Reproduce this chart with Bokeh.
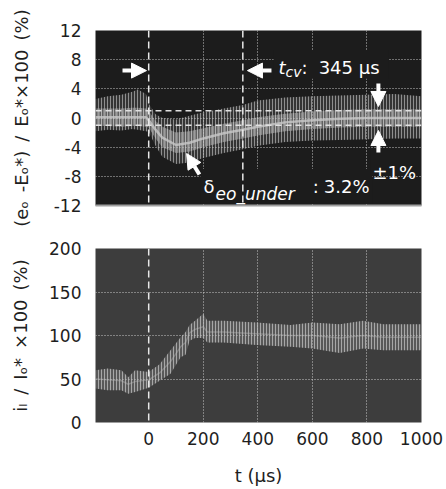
from bokeh.plotting import figure
from bokeh.models import FixedTicker, Label, Arrow, NormalHead, Span, Range1d, BoxAnnotation
from bokeh.layouts import column
from bokeh.embed import file_html
from bokeh.resources import INLINE

FONT = "DejaVu Sans"
INK = "#1e1e1e"

# ---------------- data ----------------
x_ticks = [0, 200, 400, 600, 800, 1000]
x_grid = [200, 400, 600, 800]

# top panel: output-voltage error (%)
top_ticks = [-12, -8, -4, 0, 4, 8, 12]
top_grid = [-8, -4, 0, 4, 8]
t_top = [-195, -150, -100, -60, -40, -10, 0, 25, 50, 100, 150, 200, 275, 345, 400, 500, 600, 700, 800, 900, 1000]
top_outer_hi = [2.6, 3.0, 3.2, 3.6, 3.9, 3.3, 2.0, 0.5, 0.0, -0.2, 0.3, 0.8, 1.3, 1.8, 2.4, 2.8, 3.0, 3.1, 3.2, 3.3, 3.0]
top_outer_lo = [-1.8, -1.6, -1.7, -1.5, -1.6, -1.8, -1.9, -3.8, -5.3, -6.3, -6.1, -5.5, -4.8, -4.3, -3.8, -3.3, -3.1, -3.0, -2.9, -2.8, -2.8]
top_inner_hi = [1.3, 1.3, 1.3, 1.4, 1.4, 1.3, 1.0, -0.4, -1.2, -2.0, -1.8, -1.4, -0.8, -0.3, 0.1, 0.6, 0.9, 1.1, 1.2, 1.2, 1.2]
top_inner_lo = [-1.1, -1.1, -1.2, -1.1, -1.1, -1.2, -1.3, -2.8, -4.0, -4.8, -4.6, -4.0, -3.3, -2.8, -2.4, -1.8, -1.5, -1.3, -1.2, -1.2, -1.2]
top_mean = [0.1, 0.1, 0.1, 0.1, 0.1, 0.1, -0.3, -1.6, -2.7, -3.7, -3.4, -2.8, -2.1, -1.6, -1.2, -0.6, -0.3, -0.1, 0.0, 0.0, 0.0]
t_step = 0
t_cv = 345
band_pct = 1.0

# bottom panel: inductor current (%)
bot_ticks = [0, 50, 100, 150, 200]
bot_grid = [50, 100, 150]
t_bot = [-195, -150, -100, -75, -50, 0, 40, 80, 117, 135, 150, 170, 200, 215, 275, 395, 520, 600, 700, 786, 860, 1000]
bot_hi = [60, 62, 60, 52, 60, 58, 67, 83, 98, 104, 112, 117, 125, 117, 117, 115, 112, 115, 113, 117, 113, 113]
bot_lo = [39, 37, 37, 33, 35, 40, 48, 56, 75, 78, 94, 97, 97, 92, 92, 89, 87, 85, 80, 85, 83, 83]
bot_mid = [50, 49, 48, 44, 47, 49, 57, 70, 87, 92, 103, 107, 110, 104, 104, 102, 100, 100, 97, 100, 98, 98]

top_ylabel = "(eₒ\u2002-Eₒ*)\u2002/\u2002Eₒ*×100\u2002(%)"
bot_ylabel = "iₗ\u2002/\u2002Iₒ*\u2002×100\u2002(%)"
x_label = "t (μs)"

# ---------------- helpers ----------------
W = {' ': .318, '(': .390, ')': .390, '*': .500, '-': .361, '/': .337, ':': .337, '%': .950,
     '.': .318, 'E': .632, 'I': .295, 'L': .557, 'c': .550, 'd': .635, 'e': .615, 'i': .278,
     'n': .634, 'o': .612, 'r': .411, 's': .521, 't': .392, 'u': .634, 'v': .592, '_': .500,
     '×': .838, '±': .838, 'μ': .636, 'δ': .612}


def tw(s, size):
    return sum(W.get(c, .636) for c in s) * size


def rich(fig, pieces, x, y, color="white"):
    """horizontal rich text anchored in data units; pieces: (text, size, italic, sub_shift, gap)"""
    pos = 0.0
    for text, size, italic, shift, gap in pieces:
        pos += gap
        fig.add_layout(Label(x=x, y=y, x_offset=pos, y_offset=-shift, text=text,
                             text_font=FONT, text_font_size=f"{size}px",
                             text_font_style="italic" if italic else "normal",
                             text_color=color, text_align="left", text_baseline="alphabetic"))
        pos += tw(text, size)


def style(p, yticks, ygrid, bg, ylabel, standoff):
    p.background_fill_color = bg
    p.border_fill_color = "white"
    p.outline_line_color = None
    p.yaxis.ticker = FixedTicker(ticks=yticks)
    p.yaxis.major_label_overrides = {v: str(v) for v in yticks}
    p.yaxis.axis_line_color = None
    p.yaxis.major_tick_line_color = None
    p.yaxis.minor_tick_line_color = None
    p.yaxis.major_tick_out = 0
    p.yaxis.major_label_standoff = 14
    p.yaxis.major_label_text_font = FONT
    p.yaxis.major_label_text_font_size = "17px"
    p.yaxis.major_label_text_color = INK
    p.yaxis.axis_label = ylabel
    p.yaxis.axis_label_text_font = FONT
    p.yaxis.axis_label_text_font_size = "18px"
    p.yaxis.axis_label_text_font_style = "normal"
    p.yaxis.axis_label_text_color = INK
    p.yaxis.axis_label_standoff = standoff
    p.xaxis.major_tick_line_color = None
    p.xaxis.minor_tick_line_color = None
    p.xaxis.major_tick_out = 0
    p.xgrid.ticker = FixedTicker(ticks=x_grid)
    p.ygrid.ticker = FixedTicker(ticks=ygrid)
    for g in (p.xgrid, p.ygrid):
        g.grid_line_color = "#d8d8d8"
        g.grid_line_dash = "1 2"
        g.grid_line_width = 1
        g.grid_line_alpha = 0.9


def arrow(p, xs, ys, xe, ye):
    p.add_layout(Arrow(end=NormalHead(size=15, fill_color="white", line_color="white", line_width=1),
                       x_start=xs, y_start=ys, x_end=xe, y_end=ye,
                       line_color="white", line_width=4))


# ---------------- top panel ----------------
p1 = figure(width=446, height=240, x_range=Range1d(-195, 1000), y_range=Range1d(-12, 12),
            output_backend="svg", toolbar_location=None,
            min_border_left=95, min_border_right=25, min_border_top=30, min_border_bottom=35)
style(p1, top_ticks, top_grid, "#1c1c1c", top_ylabel, 19)
p1.xaxis.ticker = FixedTicker(ticks=[])
p1.xaxis.axis_line_color = "#a0a0a0"
p1.xaxis.axis_line_width = 2

p1.varea(x=t_top, y1=top_outer_lo, y2=top_outer_hi, fill_color="#8c8c8c", fill_alpha=0.22,
         hatch_pattern="vertical_line", hatch_color="#d8d8d8", hatch_alpha=0.55,
         hatch_scale=3, hatch_weight=1)
p1.varea(x=t_top, y1=top_inner_lo, y2=top_inner_hi, fill_color="#b8b8b8", fill_alpha=0.35,
         hatch_pattern="vertical_line", hatch_color="#f0f0f0", hatch_alpha=0.5,
         hatch_scale=2, hatch_weight=1)
p1.line(x=t_top, y=top_mean, line_color="#c8c8c8", line_width=2.5, line_alpha=0.8)

# text backgrounds
for l, r, b, t in [(458, 879, 5.4, 9.3), (190, 820, -11.8, -7.0), (813, 989, -7.75, -4.3)]:
    p1.add_layout(BoxAnnotation(left=l, right=r, bottom=b, top=t, fill_color="#1c1c1c",
                                fill_alpha=1, line_color=None))

for loc in (band_pct, -band_pct):
    p1.add_layout(Span(location=loc, dimension="width", line_color="#e0e0e0",
                       line_dash="6 4", line_width=1.5))
for loc in (t_step, t_cv):
    p1.add_layout(Span(location=loc, dimension="height", line_color="#e8e8e8",
                       line_dash="7 4", line_width=1.5))

arrow(p1, -96, 6.5, -8, 6.5)
arrow(p1, 450, 6.5, 362, 6.5)
arrow(p1, 842, 4.73, 842, 1.58)
arrow(p1, 842, -4.73, 842, -1.71)
arrow(p1, 186, -7.75, 139, -4.87)

rich(p1, [("t", 18, True, 0, 0), ("cv", 14, True, 5, 0), (":", 18, False, 0, 0),
          ("345 μs", 18, False, 0, 11)], 476, 6.93)
rich(p1, [("δ", 18, False, 0, 0), ("eo_under", 17, True, 8, 1), (":", 18, False, 0, 18),
          ("3.2%", 18, False, 0, 5)], 201, -9.35)
rich(p1, [("±1%", 18, False, 0, 0)], 820, -7.47)

# ---------------- bottom panel ----------------
p2 = figure(width=446, height=248, x_range=Range1d(-195, 1000), y_range=Range1d(0, 200),
            output_backend="svg", toolbar_location=None,
            min_border_left=95, min_border_right=25, min_border_top=8, min_border_bottom=66)
style(p2, bot_ticks, bot_grid, "#3d3d3d", bot_ylabel, 15)
p2.xaxis.ticker = FixedTicker(ticks=x_ticks)
p2.xaxis.axis_line_color = None
p2.xaxis.major_label_standoff = 9
p2.xaxis.major_label_text_font = FONT
p2.xaxis.major_label_text_font_size = "17px"
p2.xaxis.major_label_text_color = INK
p2.xaxis.axis_label = x_label
p2.xaxis.axis_label_text_font = FONT
p2.xaxis.axis_label_text_font_size = "18px"
p2.xaxis.axis_label_text_font_style = "normal"
p2.xaxis.axis_label_text_color = INK
p2.xaxis.axis_label_standoff = 17

p2.varea(x=t_bot, y1=bot_lo, y2=bot_hi, fill_color="#9a9a9a", fill_alpha=0.3,
         hatch_pattern="vertical_line", hatch_color="#c8c8c8", hatch_alpha=0.7,
         hatch_scale=3, hatch_weight=1)
p2.line(x=t_bot, y=bot_mid, line_color="#b8b8b8", line_width=1.5, line_alpha=0.4)
p2.add_layout(Span(location=t_step, dimension="height", line_color="#e8e8e8",
                   line_dash="7 4", line_width=1.5))

layout = column(p1, p2)
open("out.html", "w").write(file_html(layout, INLINE))
